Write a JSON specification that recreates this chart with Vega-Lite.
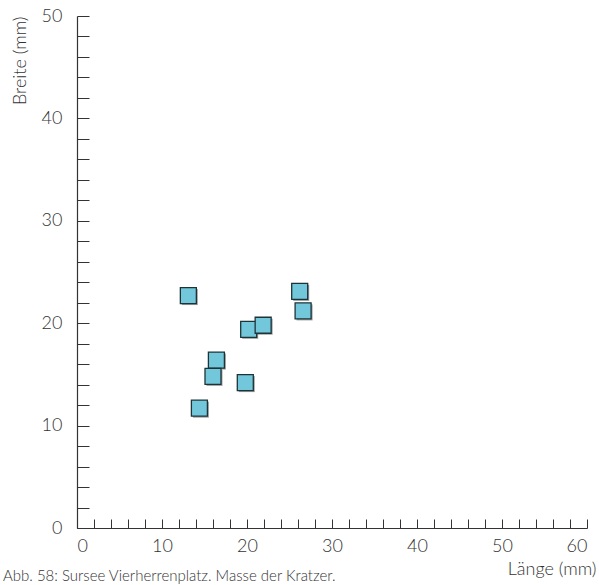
{
  "$schema": "https://vega.github.io/schema/vega-lite/v6.json",
  "width": 510,
  "height": 512,
  "autosize": {"type": "none"},
  "padding": {"left": 77, "top": 16, "right": 12, "bottom": 57},
  "background": "white",
  "config": {
    "view": {"stroke": null},
    "font": "Lato",
    "axis": {"grid": false, "domainColor": "#333", "tickColor": "#333", "labelColor": "#333", "titleColor": "#333", "labelFont": "Lato", "titleFont": "Lato", "titleFontWeight": "normal", "labelFontWeight": 300, "domainWidth": 1.2, "tickWidth": 1}
  },
  "title": {
    "text": "Abb. 58: Sursee Vierherrenplatz. Masse der Kratzer.",
    "orient": "bottom",
    "anchor": "start",
    "frame": "group",
    "fontSize": 15,
    "fontWeight": 300,
    "color": "#333",
    "dx": -74,
    "offset": -9
  },
  "data": {
    "values": [
      {"laenge": 13.1, "breite": 22.7},
      {"laenge": 26.2, "breite": 23.1},
      {"laenge": 26.6, "breite": 21.2},
      {"laenge": 20.2, "breite": 19.4},
      {"laenge": 21.9, "breite": 19.8},
      {"laenge": 16.4, "breite": 16.4},
      {"laenge": 16.0, "breite": 14.8},
      {"laenge": 19.8, "breite": 14.2},
      {"laenge": 14.4, "breite": 11.7}
    ]
  },
  "encoding": {
    "x": {
      "field": "laenge", "type": "quantitative",
      "scale": {"domain": [0, 60], "nice": false, "zero": false},
      "axis": {
        "title": "Länge (mm)", "titleX": 519, "titleAlign": "right", "titleFontSize": 18, "titlePadding": 5, "titleFontWeight": 300,
        "values": [0,2,4,6,8,10,12,14,16,18,20,22,24,26,28,30,32,34,36,38,40,42,44,46,48,50,52,54,56,58,60],
        "labelExpr": "datum.value % 10 === 0 ? datum.label : ''",
        "tickSize": -9, "labelPadding": 18, "labelFontSize": 18
      }
    },
    "y": {
      "field": "breite", "type": "quantitative",
      "scale": {"domain": [0, 50], "nice": false, "zero": false},
      "axis": {
        "title": "Breite (mm)", "titleAnchor": "end", "titleFontSize": 18, "titlePadding": 12, "titleFontWeight": 300,
        "values": [0,2,4,6,8,10,12,14,16,18,20,22,24,26,28,30,32,34,36,38,40,42,44,46,48,50],
        "labelExpr": "datum.value % 10 === 0 ? datum.label : ''",
        "tickSize": -12, "labelPadding": 27, "labelFontSize": 18
      }
    }
  },
  "layer": [
    {"mark": {"type": "square", "size": 256, "filled": true, "color": "#888", "opacity": 0.8, "xOffset": 1.5, "yOffset": 1.5}},
    {"mark": {"type": "square", "size": 256, "filled": true, "fill": "#72c8da", "stroke": "#1c3438", "strokeWidth": 1.3, "opacity": 1}}
  ]
}
